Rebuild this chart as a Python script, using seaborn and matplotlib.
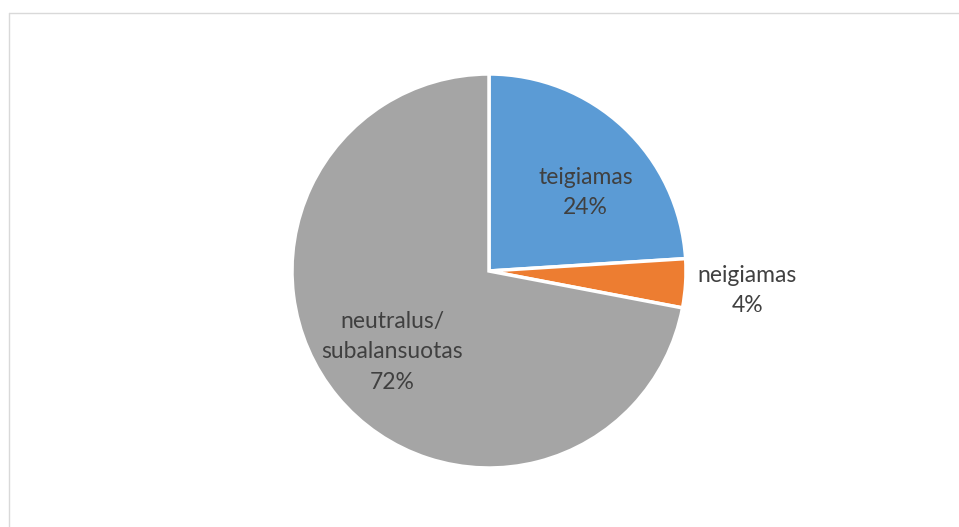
import matplotlib
matplotlib.use("Agg")
import matplotlib.pyplot as plt
import seaborn as sns
from matplotlib.lines import Line2D

# Chart data
categories = ["teigiamas", "neigiamas", "neutralus/\nsubalansuotas"]
shares = [24, 4, 72]
colors = ["#5B9BD5", "#ED7D31", "#A5A5A5"]
# label anchor points, in pie-radius units
label_pos = [(0.49, 0.40), (1.31, -0.10), (-0.49, -0.41)]

sns.set_theme(style="white")
plt.rcParams['font.family'] = ['Lato', 'DejaVu Sans']

W, H = 959, 527
fig = plt.figure(figsize=(W / 100, H / 100), dpi=100)
fig.patch.set_facecolor("white")

# pie centre and radius in pixels
cx, cy, r = 489, 271, 197
ax = fig.add_axes([(cx - r) / W, (H - cy - r) / H, 2 * r / W, 2 * r / H])
ax.pie(shares, colors=colors, startangle=90, counterclock=False,
       radius=1, wedgeprops=dict(edgecolor="white", linewidth=2.5))
ax.set_xlim(-1, 1)
ax.set_ylim(-1, 1)
ax.set_aspect("equal")
ax.axis("off")

for name, val, (x, y) in zip(categories, shares, label_pos):
    ax.text(x, y, f"{name}\n{val}%", ha="center", va="center",
            fontsize=16.5, color="#404040", linespacing=1.55,
            clip_on=False)

# light chart-area border (top and left visible)
fig.add_artist(Line2D([8.5 / W, 1.0], [1 - 12.5 / H, 1 - 12.5 / H],
                      color="#D9D9D9", linewidth=1.0, transform=fig.transFigure))
fig.add_artist(Line2D([8.5 / W, 8.5 / W], [0.0, 1 - 12.5 / H],
                      color="#D9D9D9", linewidth=1.0, transform=fig.transFigure))

plt.savefig("out.png", dpi=100)
plt.close()
